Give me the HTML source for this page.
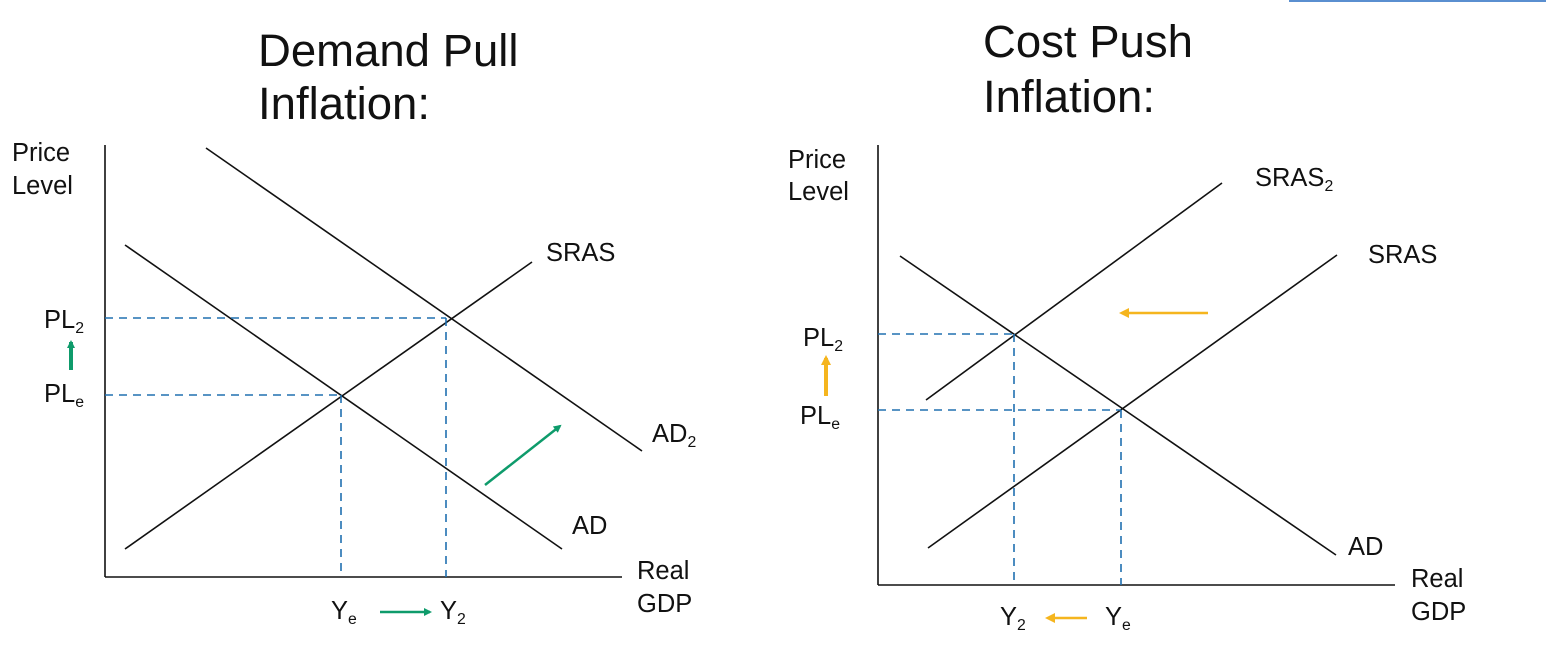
<!DOCTYPE html>
<html><head><meta charset="utf-8"><style>
body{margin:0;background:#fff;}
svg{display:block;font-family:"Liberation Sans",Arial,sans-serif;}
</style></head><body>
<svg width="1546" height="648" viewBox="0 0 1546 648">
<defs>
<marker id="g" markerWidth="8" markerHeight="8" refX="6" refY="4" orient="auto" markerUnits="userSpaceOnUse"><path d="M0,0 L8,4 L0,8z" fill="#0e9b6b"/></marker>
<marker id="o" markerWidth="10" markerHeight="10" refX="7" refY="5" orient="auto" markerUnits="userSpaceOnUse"><path d="M0,0 L10,5 L0,10z" fill="#f5b51e"/></marker>
</defs>
<rect x="1289" y="0" width="257" height="2" fill="#5a8fd0"/>
<g id="left"></g>
<g id="right"></g>
</svg>
<script>
// line endpoints [x1,y1,x2,y2,name]
const leftCurves=[[125,549,532,262,'sras-line'],[125,245,562,549,'ad-line'],[206,148,642,451,'ad2-line']];
const leftDashes=[[105,318,446,318,'pl2-guide'],[446,318,446,577,'y2-guide'],[105,395,341,395,'ple-guide'],[341,395,341,577,'ye-guide']];
const rightCurves=[[926,400,1222,183,'sras2-line'],[928,548,1337,255,'sras-line'],[900,256,1336,555,'ad-line']];
const rightDashes=[[878,334,1014,334,'pl2-guide'],[1014,334,1014,585,'y2-guide'],[878,410,1121,410,'ple-guide'],[1121,410,1121,585,'ye-guide']];
const NS='http://www.w3.org/2000/svg';
function mk(p,tag,attrs){const e=document.createElementNS(NS,tag);for(const k in attrs)e.setAttribute(k,attrs[k]);p.appendChild(e);return e;}
function line(p,a,style,name){const e=mk(p,'line',Object.assign({x1:a[0],y1:a[1],x2:a[2],y2:a[3]},style));

return e;}
function text(p,x,y,s,size,name,sub){const t=mk(p,'text',{x:x,y:y,'font-size':size,fill:'#111'});t.textContent=s;
if(sub){const ts=mk(t,'tspan',{'font-size':size*0.62,dy:5});ts.textContent=sub;}

return t;}
const L=document.getElementById('left'),R=document.getElementById('right');
const solid={stroke:'#111','stroke-width':1.6};
const dash={stroke:'#2070b0','stroke-width':1.6,'stroke-dasharray':'8 6'};
const F=25.5,T=45.5;
// left
line(L,[105,145,105,577],solid,'y-axis');line(L,[105,577,622,577],solid,'x-axis');
leftCurves.forEach(c=>line(L,c,solid,c[4]));leftDashes.forEach(c=>line(L,c,dash,c[4]));
line(L,[485,485,560,426],{stroke:'#0e9b6b','stroke-width':2.5,'marker-end':'url(#g)'},'shift-arrow');
line(L,[71,370,71,342],{stroke:'#0e9b6b','stroke-width':4,'marker-end':'url(#g)'},'price-up-arrow');
line(L,[380,612,430,612],{stroke:'#0e9b6b','stroke-width':2.5,'marker-end':'url(#g)'},'gdp-arrow');
text(L,258,66,'Demand Pull',T,'title-line1');text(L,258,119,'Inflation:',T,'title-line2');
text(L,12,161,'Price',F,'y-axis-title');text(L,12,194,'Level',F,'y-axis-title-2');
text(L,44,328,'PL',F,'pl2-label','2');text(L,44,402,'PL',F,'ple-label','e');
text(L,546,261,'SRAS',F,'sras-label');text(L,652,442,'AD',F,'ad2-label','2');text(L,572,534,'AD',F,'ad-label');
text(L,637,579,'Real',F,'x-axis-title');text(L,637,612,'GDP',F,'x-axis-title-2');
text(L,331,619,'Y',F,'ye-label','e');text(L,440,619,'Y',F,'y2-label','2');
// right
line(R,[878,145,878,585],solid,'y-axis');line(R,[878,585,1395,585],solid,'x-axis');
rightCurves.forEach(c=>line(R,c,solid,c[4]));rightDashes.forEach(c=>line(R,c,dash,c[4]));
line(R,[1208,313,1122,313],{stroke:'#f5b51e','stroke-width':2.5,'marker-end':'url(#o)'},'shift-arrow');
line(R,[826,396,826,358],{stroke:'#f5b51e','stroke-width':4,'marker-end':'url(#o)'},'price-up-arrow');
line(R,[1087,618,1048,618],{stroke:'#f5b51e','stroke-width':2.5,'marker-end':'url(#o)'},'gdp-arrow');
text(R,983,57,'Cost Push',T,'title-line1');text(R,983,112,'Inflation:',T,'title-line2');
text(R,788,168,'Price',F,'y-axis-title');text(R,788,200,'Level',F,'y-axis-title-2');
text(R,803,346,'PL',F,'pl2-label','2');text(R,800,424,'PL',F,'ple-label','e');
text(R,1255,186,'SRAS',F,'sras2-label','2');text(R,1368,263,'SRAS',F,'sras-label');text(R,1348,555,'AD',F,'ad-label');
text(R,1411,587,'Real',F,'x-axis-title');text(R,1411,620,'GDP',F,'x-axis-title-2');
text(R,1000,625,'Y',F,'y2-label','2');text(R,1105,625,'Y',F,'ye-label','e');
</script>
</body></html>
